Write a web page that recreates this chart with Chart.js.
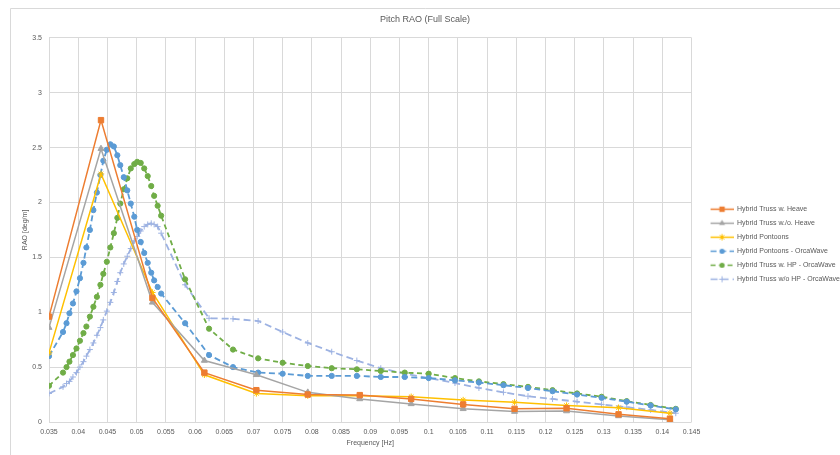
<!DOCTYPE html>
<html>
<head>
<meta charset="utf-8">
<script src="https://cdn.jsdelivr.net/npm/chart.js@4.4.1/dist/chart.umd.min.js"></script>
<style>
html, body { margin: 0; padding: 0; background: #fff; }
</style>
</head>
<body>
<canvas id="myChart" width="840" height="455"></canvas>
<script>
// model test frequencies (Hz) and measured RAOs
const modelFreq = [0.035, 0.0439, 0.0527, 0.0616, 0.0705, 0.0793, 0.0882, 0.0970, 0.1059, 0.1147, 0.1236, 0.1325, 0.1413]
const trussHeave = [0.96, 2.75, 1.13, 0.45, 0.29, 0.25, 0.245, 0.21, 0.16, 0.12, 0.125, 0.07, 0.03]
const trussNoHeave = [0.86, 2.49, 1.09, 0.56, 0.43, 0.27, 0.21, 0.165, 0.12, 0.095, 0.10, 0.055, 0.02]
const pontoons = [0.63, 2.26, 1.18, 0.43, 0.26, 0.24, 0.24, 0.23, 0.20, 0.18, 0.15, 0.13, 0.08]

// OrcaWave frequencies (Hz) and computed RAOs
const owFreq = [0.035, 0.0374, 0.0380, 0.0385, 0.0391, 0.0397, 0.0403, 0.0409, 0.0414, 0.0420, 0.0426,
    0.0432, 0.0438, 0.0443, 0.0449, 0.0455, 0.0461, 0.0467, 0.0472, 0.0478, 0.0484, 0.0490, 0.0496,
    0.0501, 0.0507, 0.0513, 0.0519, 0.0525, 0.0530, 0.0536, 0.0542, 0.0583, 0.0624, 0.0665, 0.0708,
    0.0750, 0.0793, 0.0834, 0.0877, 0.0918, 0.0959, 0.1000, 0.1045, 0.1086, 0.1128, 0.1170, 0.1212,
    0.1254, 0.1296, 0.1339, 0.1380, 0.1423]
const pontoonsOW = [0.60, 0.82, 0.90, 0.99, 1.08, 1.19, 1.31, 1.45, 1.59, 1.75, 1.93,
    2.09, 2.25, 2.38, 2.48, 2.53, 2.51, 2.43, 2.34, 2.23, 2.11, 1.99, 1.87,
    1.75, 1.64, 1.54, 1.45, 1.36, 1.29, 1.23, 1.17, 0.90, 0.61, 0.50, 0.45,
    0.44, 0.42, 0.42, 0.42, 0.41, 0.41, 0.40, 0.38, 0.36, 0.335, 0.31, 0.28,
    0.25, 0.22, 0.185, 0.15, 0.115]
const trussHpOW = [0.33, 0.45, 0.50, 0.55, 0.61, 0.67, 0.74, 0.81, 0.87, 0.96, 1.05,
    1.14, 1.25, 1.35, 1.46, 1.59, 1.72, 1.86, 1.99, 2.12, 2.22, 2.31, 2.35,
    2.37, 2.36, 2.31, 2.24, 2.15, 2.06, 1.97, 1.88, 1.30, 0.85, 0.66, 0.58,
    0.54, 0.51, 0.49, 0.48, 0.465, 0.45, 0.44, 0.40, 0.37, 0.345, 0.32, 0.29,
    0.26, 0.23, 0.19, 0.155, 0.12]
const trussNoHpOW = [0.26, 0.32, 0.35, 0.37, 0.41, 0.45, 0.50, 0.55, 0.60, 0.66, 0.72,
    0.79, 0.86, 0.93, 1.01, 1.09, 1.18, 1.28, 1.36, 1.44, 1.51, 1.58, 1.65,
    1.69, 1.74, 1.78, 1.80, 1.81, 1.80, 1.78, 1.72, 1.25, 0.945, 0.94, 0.92,
    0.82, 0.72, 0.64, 0.56, 0.49, 0.44, 0.40, 0.355, 0.31, 0.27, 0.235, 0.21,
    0.185, 0.16, 0.135, 0.11, 0.08]

const xTicks = [0.035, 0.04, 0.045, 0.05, 0.055, 0.06, 0.065, 0.07, 0.075, 0.08, 0.085, 0.09,
    0.095, 0.1, 0.105, 0.11, 0.115, 0.12, 0.125, 0.13, 0.135, 0.14, 0.145]
const yTicks = [0, 0.5, 1, 1.5, 2, 2.5, 3, 3.5]

const txt = '#595959'
const gridCol = '#D9D9D9'
Chart.defaults.font.family = "'Liberation Sans', Arial, sans-serif"

function pts(xs, ys){
    return xs.map((x, i) => ({x: x, y: ys[i]}))
}

// small marker drawer for the legend samples
function drawMarker(g, style, x, y, r){
    g.beginPath()
    if(style === 'rect'){
        const s = r * Math.SQRT1_2
        g.rect(x - s, y - s, 2 * s, 2 * s)
        g.fill()
    }else if(style === 'triangle'){
        g.moveTo(x, y - r)
        g.lineTo(x + r * 0.87, y + r * 0.5)
        g.lineTo(x - r * 0.87, y + r * 0.5)
        g.closePath()
        g.fill()
    }else if(style === 'circle'){
        g.arc(x, y, r, 0, Math.PI * 2)
        g.fill()
    }else if(style === 'cross'){
        g.moveTo(x - r, y); g.lineTo(x + r, y)
        g.moveTo(x, y - r); g.lineTo(x, y + r)
        g.stroke()
    }else if(style === 'star'){
        g.moveTo(x - r, y); g.lineTo(x + r, y)
        g.moveTo(x, y - r); g.lineTo(x, y + r)
        const d = r * Math.SQRT1_2
        g.moveTo(x - d, y - d); g.lineTo(x + d, y + d)
        g.moveTo(x - d, y + d); g.lineTo(x + d, y - d)
        g.stroke()
    }
}

function makeIcon(color, dash, style, r){
    const c = document.createElement('canvas')
    c.width = 35
    c.height = 9
    const g = c.getContext('2d')
    g.strokeStyle = color
    g.fillStyle = color
    g.lineWidth = 1.5
    g.setLineDash(dash)
    g.beginPath()
    g.moveTo(12, 4.5)
    g.lineTo(35, 4.5)
    g.stroke()
    g.setLineDash([])
    g.lineWidth = 1
    drawMarker(g, style, 23.5, 4.5, r)
    return c
}

const styles = [
    {label: 'Hybrid Truss w. Heave', color: '#ED7D31', dash: [], style: 'rect', r: 3.8, w: 1.5},
    {label: 'Hybrid Truss w./o. Heave', color: '#A5A5A5', dash: [], style: 'triangle', r: 3.5, w: 1.5},
    {label: 'Hybrid Pontoons', color: '#FFC000', dash: [], style: 'star', r: 3.2, w: 1.5},
    {label: 'Hybrid Pontoons - OrcaWave', color: '#5B9BD5', dash: [6, 3.5], style: 'circle', r: 2.6, w: 1.8},
    {label: 'Hybrid Truss w. HP - OrcaWave', color: '#70AD47', dash: [5, 3.5], style: 'circle', r: 2.6, w: 1.8},
    {label: 'Hybrid Truss w/o HP - OrcaWave', color: '#9DB2E2', dash: [7, 4], style: 'cross', r: 3, w: 1.8}
]
const seriesData = [
    pts(modelFreq, trussHeave),
    pts(modelFreq, trussNoHeave),
    pts(modelFreq, pontoons),
    pts(owFreq, pontoonsOW),
    pts(owFreq, trussHpOW),
    pts(owFreq, trussNoHpOW)
]
const icons = styles.map(s => makeIcon(s.color, s.dash, s.style, s.r))

const datasets = styles.map((s, i) => ({
    label: s.label,
    data: seriesData[i],
    showLine: true,
    borderColor: s.color,
    backgroundColor: s.color,
    borderWidth: s.w,
    borderDash: s.dash,
    pointStyle: s.style,
    pointRadius: s.r,
    pointHoverRadius: s.r,
    pointBorderWidth: 1,
    pointBorderColor: s.color,
    pointBackgroundColor: s.color,
    tension: 0
}))

const frame = {
    id: 'frame',
    beforeDraw(chart){
        const g = chart.ctx
        g.save()
        g.strokeStyle = gridCol
        g.lineWidth = 1
        g.beginPath()
        g.moveTo(10.5, 455)
        g.lineTo(10.5, 8.5)
        g.lineTo(840, 8.5)
        g.stroke()
        g.restore()
    }
}

const ctx = document.getElementById('myChart').getContext('2d')
const myChart = new Chart(ctx, {
    type: 'scatter',
    data: {datasets: datasets},
    plugins: [frame],
    options: {
        responsive: false,
        animation: false,
        layout: {padding: {left: 0, right: -10, top: 0, bottom: 0}},
        plugins: {
            tooltip: {enabled: false},
            title: {
                display: true,
                text: 'Pitch RAO (Full Scale)',
                color: txt,
                font: {size: 9, weight: 'normal'},
                padding: {top: 14, bottom: 13}
            },
            legend: {
                position: 'right',
                title: {display: true, text: ' ', font: {size: 7}, padding: {top: 0, bottom: 25}},
                labels: {
                    usePointStyle: true,
                    pointStyleWidth: 35,
                    padding: 7,
                    color: txt,
                    font: {size: 7},
                    generateLabels(chart){
                        return chart.data.datasets.map((ds, i) => ({
                            text: ds.label,
                            pointStyle: icons[i],
                            fillStyle: ds.borderColor,
                            strokeStyle: ds.borderColor,
                            lineWidth: 0,
                            hidden: false,
                            fontColor: txt,
                            datasetIndex: i
                        }))
                    }
                }
            }
        },
        scales: {
            x: {
                type: 'linear',
                min: 0.035,
                max: 0.145,
                afterBuildTicks: s => { s.ticks = xTicks.map(v => ({value: v})) },
                afterFit: s => { s.height = 33 },
                ticks: {
                    callback: v => String(+v.toFixed(3)),
                    color: txt,
                    font: {size: 7},
                    padding: 6,
                    maxRotation: 0,
                    autoSkip: false
                },
                grid: {color: gridCol, drawTicks: false},
                border: {display: false},
                title: {
                    display: true,
                    text: 'Frequency [Hz]',
                    color: txt,
                    font: {size: 7},
                    padding: {top: 0, bottom: 8}
                }
            },
            y: {
                type: 'linear',
                min: 0,
                max: 3.5,
                afterBuildTicks: s => { s.ticks = yTicks.map(v => ({value: v})) },
                afterFit: s => { s.width = 49 },
                ticks: {
                    callback: v => String(+v.toFixed(1)),
                    color: txt,
                    font: {size: 7},
                    padding: 7
                },
                grid: {color: gridCol, drawTicks: false},
                border: {display: false},
                title: {
                    display: true,
                    text: 'RAO [deg/m]',
                    color: txt,
                    font: {size: 7},
                    padding: {top: 21, bottom: 0}
                }
            }
        }
    }
})
</script>
</body>
</html>
